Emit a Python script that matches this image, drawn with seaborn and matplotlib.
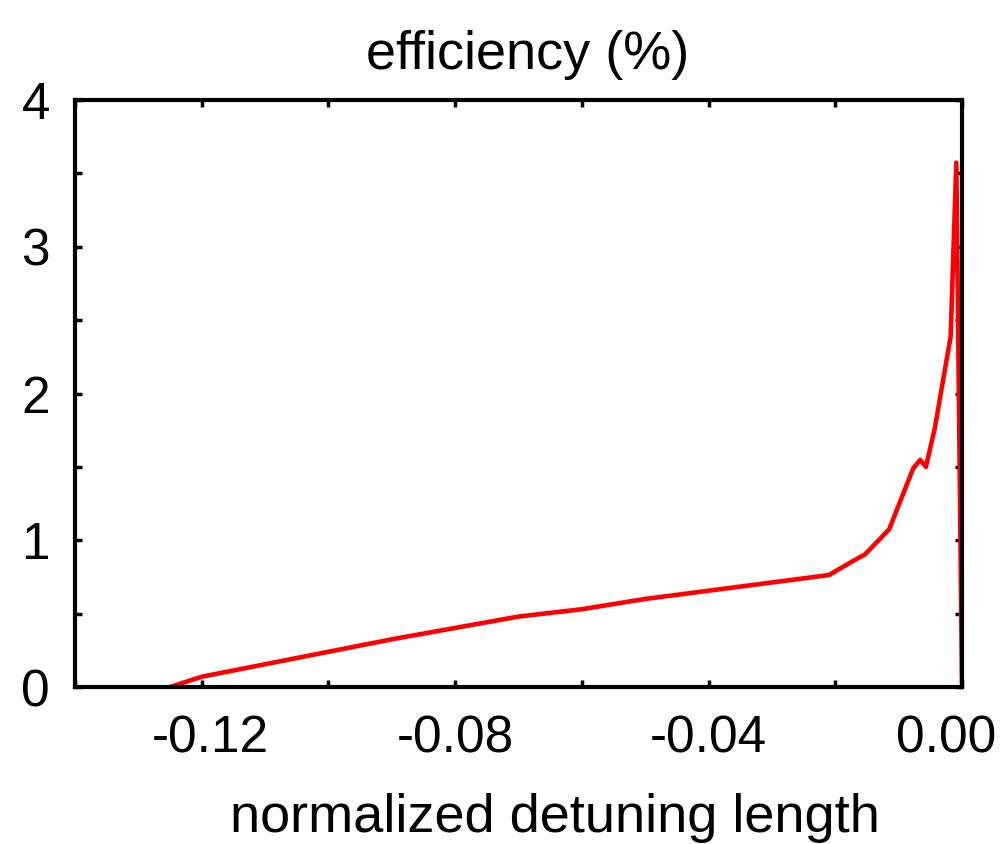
import matplotlib
matplotlib.use("Agg")
import matplotlib.pyplot as plt
import matplotlib.transforms as mtransforms
import seaborn as sns
import pandas as pd

# Data
detuning = [-0.125, -0.12, -0.09, -0.07, -0.06, -0.05, -0.021, -0.0174,
            -0.0153, -0.0115, -0.0077, -0.0066, -0.0057, -0.0043, -0.0018,
            -0.0009, 0.0]
efficiency = [0.0, 0.07, 0.325, 0.48, 0.53, 0.60, 0.763, 0.854,
              0.904, 1.075, 1.49, 1.547, 1.50, 1.763, 2.387,
              3.573, 0.0]

x_ticks = [-0.14, -0.12, -0.10, -0.08, -0.06, -0.04, -0.02, 0.0]
x_tick_labels = ["", "-0.12", "", "-0.08", "", "-0.04", "", "0.00"]
y_ticks = [0, 0.5, 1, 1.5, 2, 2.5, 3, 3.5, 4]
y_tick_labels = ["0", "", "1", "", "2", "", "3", "", "4"]

sns.set_style("ticks")
plt.rcParams["font.family"] = ["Liberation Sans", "DejaVu Sans"]
plt.rcParams["axes.unicode_minus"] = False
plt.rcParams["text.color"] = "black"
plt.rcParams["axes.labelcolor"] = "black"

df = pd.DataFrame({"x": detuning, "y": efficiency})

fig = plt.figure(figsize=(10.04, 8.44), dpi=100)
ax = fig.add_axes([0.0747, 0.186, 0.8835, 0.6955])

sns.lineplot(data=df, x="x", y="y", ax=ax, color="#ff0000", linewidth=3.3,
             sort=False, estimator=None)

ax.set_xlim(-0.14, 0.0)
ax.set_ylim(0, 4)
ax.set_xticks(x_ticks)
ax.set_xticklabels(x_tick_labels)
ax.set_yticks(y_ticks)
ax.set_yticklabels(y_tick_labels)

for s in ax.spines.values():
    s.set_visible(True)
    s.set_linewidth(3.0)
    s.set_color("black")

ax.tick_params(axis="both", direction="in", length=5, width=2.5,
               top=True, right=True, labelsize=37, colors="black")
ax.tick_params(axis="x", pad=20)
ax.tick_params(axis="y", pad=18)

ax.set_xlabel("normalized detuning length", fontsize=39, color="black")
ax.xaxis.set_label_coords(0.541, -0.18)
ax.set_ylabel("")
ax.set_title("efficiency (%)", fontsize=39, pad=22, x=0.51, color="black")

# nudge outer labels as in the reference
offsets = {"-0.12": 9, "0.00": -16}
for lab in ax.get_xticklabels():
    t = lab.get_text()
    if t in offsets:
        dx = offsets[t] / 100.0
        lab.set_transform(lab.get_transform() +
                          mtransforms.ScaledTranslation(dx, 0, fig.dpi_scale_trans))

fig.savefig("out.png", dpi=100)
